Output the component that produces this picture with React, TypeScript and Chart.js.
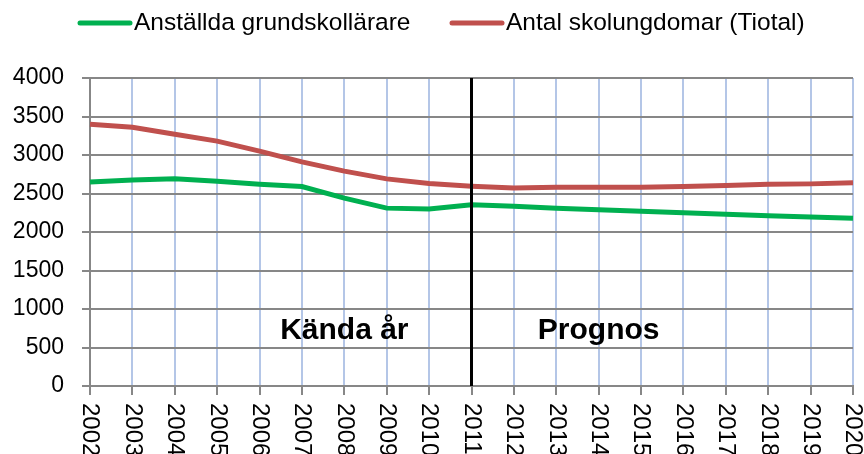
import React, { useEffect, useRef } from "react";
import { Chart, registerables } from "chart.js";

Chart.register(...registerables);

const years = ["2002","2003","2004","2005","2006","2007","2008","2009","2010","2011","2012","2013","2014","2015","2016","2017","2018","2019","2020"];
const teachers = [2650, 2675, 2690, 2660, 2620, 2590, 2440, 2310, 2300, 2355, 2335, 2310, 2290, 2270, 2250, 2230, 2210, 2195, 2180];
const pupils = [3400, 3360, 3270, 3180, 3050, 2910, 2790, 2690, 2630, 2595, 2570, 2580, 2580, 2580, 2590, 2605, 2620, 2625, 2640];
const seriesLabels = ["Anställda grundskollärare", "Antal skolungdomar (Tiotal)"];
const seriesColors = ["#00b050", "#c0504d"];
const yTicks = [0, 500, 1000, 1500, 2000, 2500, 3000, 3500, 4000];
const dividerYear = "2011";
const periodLabels = ["Kända år", "Prognos"];
const periodLabelYears = ["2008", "2014"];
const periodLabelValue = 714;

const GRAY = "#878787";
const BLUE = "#b4c6e7";
const FONT = "'Liberation Sans', Arial, sans-serif";

const overlayPlugin = {
  id: "overlay",
  afterDatasetsDraw(chart: any) {
    const { ctx, chartArea, scales } = chart;
    const xs = scales.x;
    const ys = scales.y;
    const dx = xs.getPixelForValue(years.indexOf(dividerYear));
    ctx.save();
    ctx.strokeStyle = "#000";
    ctx.lineWidth = 3;
    ctx.beginPath();
    ctx.moveTo(dx, chartArea.top);
    ctx.lineTo(dx, chartArea.bottom);
    ctx.stroke();
    ctx.fillStyle = "#000";
    ctx.font = "bold 30px " + FONT;
    ctx.textAlign = "center";
    ctx.textBaseline = "middle";
    periodLabels.forEach((t, i) => {
      const px = xs.getPixelForValue(years.indexOf(periodLabelYears[i]));
      const py = ys.getPixelForValue(periodLabelValue);
      ctx.fillText(t, px, py);
    });
    ctx.restore();
  },
  afterDraw(chart: any) {
    const { ctx, scales } = chart;
    const xs = scales.x;
    ctx.save();
    ctx.fillStyle = "#000";
    ctx.font = "24px " + FONT;
    ctx.textAlign = "left";
    ctx.textBaseline = "middle";
    years.forEach((y, i) => {
      const px = xs.getPixelForTick(i);
      ctx.save();
      ctx.translate(px, 403);
      ctx.rotate(Math.PI / 2);
      ctx.fillText(y, 0, 0);
      ctx.restore();
    });
    ctx.font = "24.5px " + FONT;
    ctx.textBaseline = "middle";
    const starts = [78, 450];
    chart.data.datasets.forEach((ds: any, i: number) => {
      const x0 = starts[i];
      ctx.strokeStyle = ds.borderColor;
      ctx.lineWidth = 5;
      ctx.lineCap = "round";
      ctx.beginPath();
      ctx.moveTo(x0 + 2, 23);
      ctx.lineTo(x0 + 52, 23);
      ctx.stroke();
      ctx.fillStyle = "#000";
      ctx.fillText(ds.label, x0 + 56, 23);
    });
    ctx.restore();
  },
};

export default function App() {
  const ref = useRef<HTMLCanvasElement>(null);
  useEffect(() => {
    if (!ref.current) return;
    const chart = new Chart(ref.current, {
      type: "line",
      data: {
        labels: years,
        datasets: [
          {
            label: seriesLabels[0],
            data: teachers,
            borderColor: seriesColors[0],
            backgroundColor: seriesColors[0],
            borderWidth: 5,
            pointRadius: 0,
            tension: 0,
          },
          {
            label: seriesLabels[1],
            data: pupils,
            borderColor: seriesColors[1],
            backgroundColor: seriesColors[1],
            borderWidth: 5,
            pointRadius: 0,
            tension: 0,
          },
        ],
      },
      options: {
        animation: false,
        responsive: false,
        maintainAspectRatio: false,
        layout: { padding: { top: 78, right: 11, left: 0, bottom: 0 } },
        plugins: {
          legend: { display: false },
          tooltip: { enabled: false },
        },
        scales: {
          x: {
            offset: false,
            ticks: { display: false },
            grid: {
              color: (c: any) => (c.index === 0 ? GRAY : BLUE),
              lineWidth: 2,
              tickColor: GRAY,
              tickLength: 9,
              drawTicks: true,
            },
            border: { color: GRAY, width: 2 },
            afterFit(scale: any) {
              scale.height = 68;
            },
          },
          y: {
            min: 0,
            max: 4000,
            afterBuildTicks(scale: any) {
              scale.ticks = yTicks.map((v) => ({ value: v }));
            },
            ticks: {
              color: "#000",
              padding: 18,
              font: { size: 23, family: FONT },
              callback: (v: any) => String(v),
            },
            grid: { color: GRAY, lineWidth: 2, tickLength: 8, tickColor: GRAY },
            border: { color: GRAY, width: 2 },
            afterFit(scale: any) {
              scale.width = 90;
            },
          },
        },
      },
      plugins: [overlayPlugin],
    });
    return () => chart.destroy();
  }, []);
  return (
    <div style={{ position: "fixed", left: 0, top: 0, width: 864, height: 454, background: "#fff" }}>
      <canvas ref={ref} width={864} height={454} style={{ display: "block" }} />
    </div>
  );
}
